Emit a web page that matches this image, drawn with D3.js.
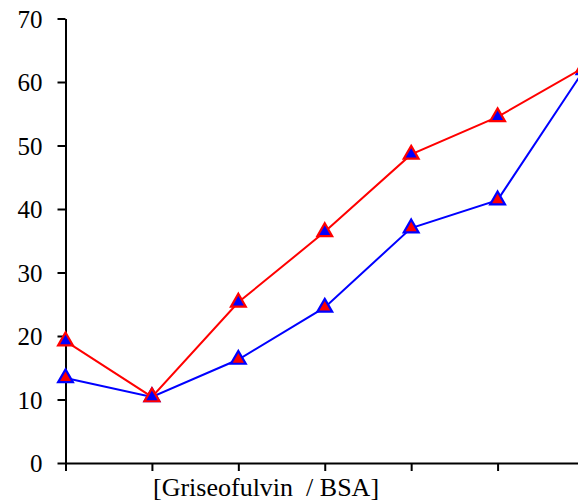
<!DOCTYPE html>
<html>
<head>
<meta charset="utf-8">
<script src="https://cdn.jsdelivr.net/npm/d3@7"></script>
<style>
  html, body { margin: 0; padding: 0; background: #fff; }
  svg { display: block; }
  text { font-family: "Liberation Serif", "Times New Roman", serif; fill: #000; }
</style>
</head>
<body>
<svg id="chart" width="578" height="502"></svg>
<script>
const categories = ["1", "2", "3", "4", "5", "6", "7"];
const redValues  = [19.2, 10.4, 25.3, 36.4, 48.6, 54.5, 62.3];
const blueValues = [13.4, 10.4, 16.3, 24.5, 37.0, 41.4, 61.9];
const yTicks = [0, 10, 20, 30, 40, 50, 60, 70];
const xAxisLabel = "[Griseofulvin  / BSA]";

const svg = d3.select("#chart");
const x = d3.scalePoint().domain(categories).range([65.5, 584]);
const y = d3.scaleLinear().domain([0, 70]).range([463, 18.5]);

// Y axis
const yAxis = svg.append("g")
  .attr("transform", "translate(65.5,0)")
  .call(d3.axisLeft(y).tickValues(yTicks).tickSize(8).tickPadding(15).tickSizeOuter(0));
yAxis.select(".domain").attr("stroke", "#000").attr("stroke-width", 2);
yAxis.selectAll(".tick line").attr("stroke", "#000").attr("stroke-width", 2);
yAxis.selectAll(".tick text").attr("font-size", 25).attr("font-family", "Liberation Serif").attr("dy", "0.35em");

// X axis
const xAxis = svg.append("g")
  .attr("transform", "translate(0,463)")
  .call(d3.axisBottom(x).tickFormat(() => "").tickSize(8).tickSizeOuter(0));
xAxis.select(".domain").attr("stroke", "#000").attr("stroke-width", 2);
xAxis.selectAll(".tick line").attr("stroke", "#000").attr("stroke-width", 2);

svg.append("text")
  .attr("x", 153)
  .attr("y", 496)
  .attr("font-size", 26)
  .style("white-space", "pre")
  .attr("xml:space", "preserve")
  .text(xAxisLabel);

const line = d3.line().x((d, i) => x(categories[i])).y(d => y(d));
const tri = d3.symbol().type(d3.symbolTriangle).size(95);

function series(values, stroke, fill) {
  const g = svg.append("g");
  g.append("path").datum(values)
    .attr("d", line).attr("fill", "none")
    .attr("stroke", stroke).attr("stroke-width", 2);
  g.selectAll("path.m").data(values).enter().append("path")
    .attr("class", "m")
    .attr("d", tri)
    .attr("transform", (d, i) => `translate(${x(categories[i])},${y(d)})`)
    .attr("fill", fill).attr("stroke", stroke).attr("stroke-width", 2.2);
}
series(blueValues, "#0000ff", "#ff0000");
series(redValues, "#ff0000", "#0000ff");
</script>
</body>
</html>
